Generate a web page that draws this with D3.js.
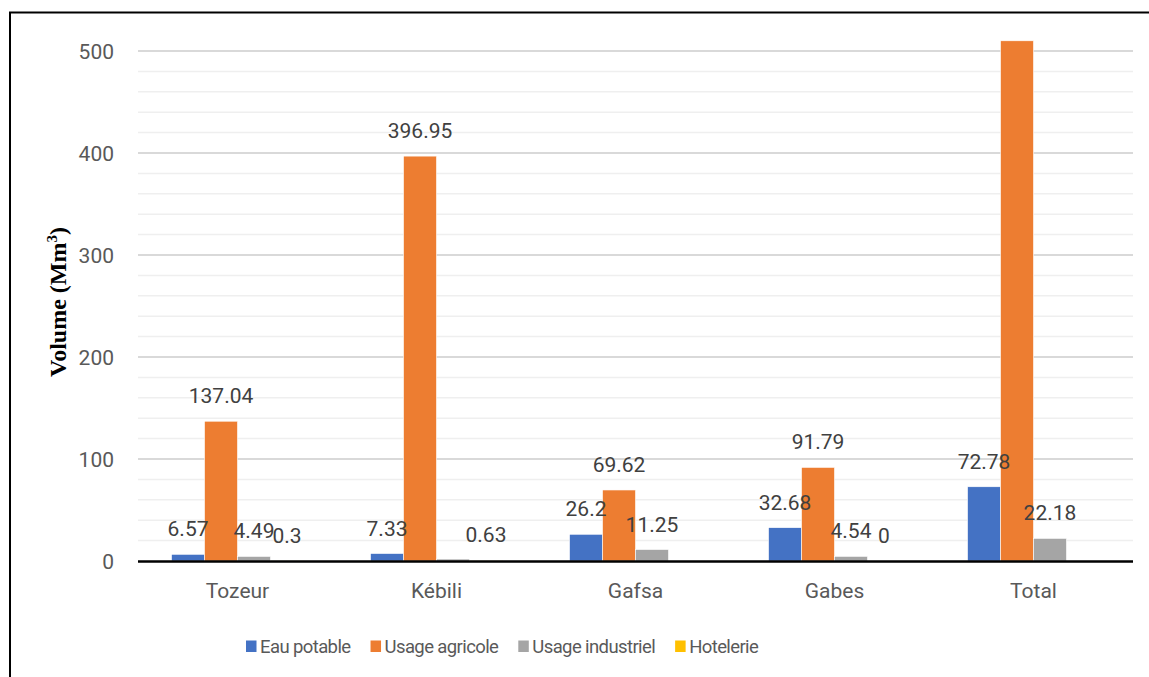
<!DOCTYPE html>
<html>
<head>
<meta charset="utf-8">
<script src="https://cdn.jsdelivr.net/npm/d3@7"></script>
<style>
  html, body { margin: 0; padding: 0; background: #fff; }
  svg { display: block; }
</style>
</head>
<body>
<svg id="chart" width="1149" height="677"></svg>
<script>
// Water use per governorate (Mm³)
const categories = ["Tozeur", "Kébili", "Gafsa", "Gabes", "Total"];
const seriesNames = ["Eau potable", "Usage agricole", "Usage industriel", "Hotelerie"];
const eauPotable      = [6.57, 7.33, 26.2, 32.68, 72.78];
const usageAgricole   = [137.04, 396.95, 69.62, 91.79, 510];
const usageIndustriel = [4.49, 1.9, 11.25, 4.54, 22.18];
const hotelerie       = [0.3, 0.63, null, 0, null];
// values drawn without a data label
const unlabeled = [["Usage agricole", "Total"], ["Usage industriel", "Kébili"]];
const yTicksMajor = [0, 100, 200, 300, 400, 500];
const yTicksMinor = [20, 40, 60, 80, 120, 140, 160, 180, 220, 240, 260, 280, 320, 340, 360, 380, 420, 440, 460, 480];

const colors = ["#4472C4", "#ED7D31", "#A5A5A5", "#FFC000"];
const seriesValues = [eauPotable, usageAgricole, usageIndustriel, hotelerie];

const svg = d3.select("#chart");
const W = 1149, H = 677;
const plot = { left: 138, right: 1133, top: 51, bottom: 561 };

// chart frame
svg.append("rect")
  .attr("x", 10).attr("y", 12.5)
  .attr("width", W + 20).attr("height", H + 20)
  .attr("fill", "#fff").attr("stroke", "#000").attr("stroke-width", 2);

const y = d3.scaleLinear().domain([0, 500]).range([plot.bottom, plot.top]);
const x0 = d3.scaleBand().domain(categories)
  .range([plot.left, plot.right]).paddingInner(0.337).paddingOuter(0.1685);
const x1 = d3.scaleBand().domain(seriesNames).range([0, x0.bandwidth()]);
const color = d3.scaleOrdinal().domain(seriesNames).range(colors);

// gridlines
svg.append("g").selectAll("line").data(yTicksMinor).join("line")
  .attr("x1", plot.left).attr("x2", plot.right)
  .attr("y1", d => y(d)).attr("y2", d => y(d))
  .attr("stroke", "#efefef").attr("stroke-width", 1.5);
svg.append("g").selectAll("line").data(yTicksMajor.filter(d => d > 0)).join("line")
  .attr("x1", plot.left).attr("x2", plot.right)
  .attr("y1", d => y(d)).attr("y2", d => y(d))
  .attr("stroke", "#d9d9d9").attr("stroke-width", 2);

// y axis tick labels
const yAxis = d3.axisLeft(y).tickValues(yTicksMajor).tickSize(0).tickPadding(0);
const gy = svg.append("g").attr("transform", `translate(114,0)`).call(yAxis);
gy.select(".domain").remove();
gy.selectAll("text")
  .attr("font-family", "Roboto, sans-serif").attr("font-size", 21)
  .attr("fill", "#595959").attr("dy", "0.36em");

// y axis title
const title = svg.append("text")
  .attr("transform", "translate(66,302) rotate(-90)")
  .attr("text-anchor", "middle")
  .attr("font-family", "'Liberation Serif', 'Times New Roman', serif")
  .attr("font-weight", "bold").attr("font-size", 24).attr("fill", "#000");
title.append("tspan").text("Volume (Mm");
title.append("tspan").attr("font-size", 15).attr("dy", -9).text("3");
title.append("tspan").attr("dy", 9).text(")");

// bars
const rows = [];
categories.forEach((c, i) => {
  seriesNames.forEach((s, j) => {
    const v = seriesValues[j][i];
    if (v === null) return;
    const hide = unlabeled.some(u => u[0] === s && u[1] === c);
    rows.push({ cat: c, series: s, value: v, label: !hide });
  });
});

svg.append("g").selectAll("rect").data(rows).join("rect")
  .attr("x", d => x0(d.cat) + x1(d.series))
  .attr("width", x1.bandwidth())
  .attr("y", d => y(d.value))
  .attr("height", d => y(0) - y(d.value))
  .attr("fill", d => color(d.series))
  .attr("stroke", "#fff").attr("stroke-width", 0.6);

// data labels
svg.append("g").selectAll("text").data(rows.filter(d => d.label)).join("text")
  .attr("x", d => x0(d.cat) + x1(d.series) + x1.bandwidth() / 2)
  .attr("y", d => y(d.value) - 18)
  .attr("text-anchor", "middle")
  .attr("font-family", "Roboto, sans-serif").attr("font-size", 21)
  .attr("fill", "#404040")
  .text(d => String(d.value));

// zero axis line
svg.append("line")
  .attr("x1", plot.left).attr("x2", plot.right)
  .attr("y1", y(0) + 0.5).attr("y2", y(0) + 0.5)
  .attr("stroke", "#000").attr("stroke-width", 2.5);

// category labels
const xAxis = d3.axisBottom(x0).tickSize(0).tickPadding(0);
const gx = svg.append("g").attr("transform", `translate(0,598)`).call(xAxis);
gx.select(".domain").remove();
gx.selectAll("text")
  .attr("font-family", "Roboto, sans-serif").attr("font-size", 21)
  .attr("fill", "#595959").attr("dy", 0).attr("y", 0);

// legend
const legend = svg.append("g");
let lx = 246;
seriesNames.forEach((s, j) => {
  const g = legend.append("g").attr("transform", `translate(${lx},0)`);
  g.append("rect").attr("x", 0).attr("y", 640.5).attr("width", 10.5).attr("height", 11.5)
    .attr("fill", colors[j]);
  const t = g.append("text").attr("x", 14).attr("y", 652.5)
    .attr("font-family", "Roboto, sans-serif").attr("font-size", 18.5)
    .attr("letter-spacing", -0.6)
    .attr("fill", "#595959").text(s);
  lx += 14 + t.node().getComputedTextLength() + 20;
});
</script>
</body>
</html>
